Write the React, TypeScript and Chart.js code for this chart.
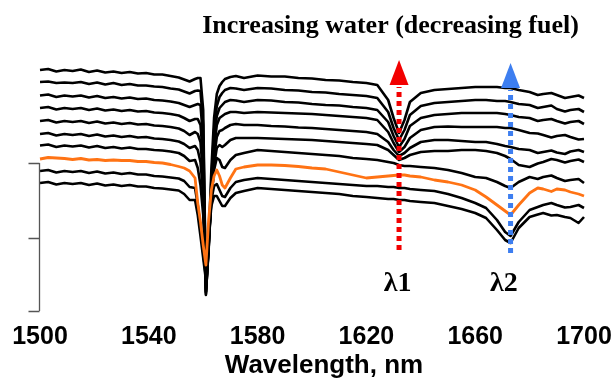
import React, { useEffect, useRef } from 'react';
import { Chart, registerables } from 'chart.js';

Chart.register(...registerables);

// Wavelength samples (nm)
const wavelengths = [1500, 1503, 1506, 1509, 1512, 1515, 1518, 1521, 1524, 1527, 1530, 1533, 1536, 1539, 1542, 1545, 1548, 1551,
  1553, 1555, 1557, 1558, 1559, 1560, 1561, 1562, 1563, 1564, 1565, 1566, 1567, 1568, 1570, 1572, 1575,
  1580, 1585, 1590, 1595, 1600, 1605, 1610, 1615, 1620,
  1624, 1628, 1630, 1632, 1634, 1636, 1640,
  1645, 1650, 1655, 1660,
  1664, 1668, 1671, 1673, 1676, 1680, 1683, 1685, 1688, 1690, 1693, 1695, 1698, 1700];

// Stacked spectra (a.u.), top to bottom
const spectrum1 = [241, 242, 239.5, 241, 240, 241.5, 239, 240.5, 238.5, 239.5, 238, 239, 237.5, 238, 236.5, 236.5, 235, 233.5,
  231.5, 229.5, 232, 233, 233, 201, 19, 71, 141, 193, 217, 225, 229, 232, 234, 235, 233,
  235.5, 234.5, 234.5, 233, 232.5, 231, 230.5, 229, 228,
  226, 211, 193, 178, 191, 209, 218,
  221, 222, 223, 224,
  224, 224, 223, 223, 221, 219, 216, 217, 218, 216, 213, 214, 215.5, 213];
const spectrum2 = [229, 229.5, 228, 228.5, 228, 229, 227, 228.5, 226.5, 228, 226, 227, 225.5, 225.5, 224.5, 224, 222.5, 221.5,
  219.5, 217.5, 220, 220.5, 220, 186, 16, 66, 131, 181, 205, 214, 218, 221, 223, 222.5, 221,
  223, 222.5, 221, 220.5, 219, 218.5, 217, 216, 215,
  213, 199, 183, 171, 181, 196, 205,
  208, 209, 210, 211,
  211, 210, 210, 209, 207, 206, 203, 204, 205.5, 202, 199.5, 201, 202, 199];
const spectrum3 = [215.5, 216.5, 214, 215.5, 214.5, 215.5, 213.5, 215, 213, 214, 212.5, 213.5, 212, 212.5, 211, 210.5, 209.5, 208,
  206, 204, 206, 207, 206, 171, 17, 63, 123, 171, 195, 203, 206, 209, 211, 210.5, 209,
  211, 210.5, 209, 208.5, 207, 206, 205.5, 204, 203,
  201, 189, 175, 164, 172, 185, 193,
  196, 197, 198, 198,
  198, 198, 197, 196, 194, 193, 190, 191, 192, 190, 187.5, 189, 190, 187];
const spectrum4 = [203, 204, 201.5, 203, 202, 203, 201, 202.5, 200.5, 201.5, 200, 201, 199.5, 200, 198.5, 198, 197, 195.5,
  193, 190, 192, 192, 186, 151, 19, 61, 119, 163, 186, 193, 195, 197, 199, 199, 198,
  199, 198.5, 198, 197.5, 197, 196, 195, 194, 193,
  191, 179, 168, 159, 164, 173, 181,
  184, 184.5, 184, 184,
  184, 184, 183, 183, 181, 178, 177.5, 176, 173.5, 175, 176, 174, 171.5, 172];
const spectrum5 = [190, 191, 188.5, 190, 189, 190, 188, 189.5, 187.5, 188.5, 187, 188, 186.5, 187, 185.5, 185, 184, 182.5,
  180, 176, 179, 177, 169, 133, 21, 63, 113, 153, 174, 180, 181, 183, 186, 187, 186,
  186, 185, 184.5, 183.5, 183, 182, 181, 180, 179,
  177, 169, 161, 155, 158, 163, 169,
  171, 171, 170, 169,
  169, 167, 165, 164, 162, 161, 158, 159, 160.5, 158.5, 157, 159.5, 161, 159];
const spectrum6 = [177, 178, 175.5, 177, 176, 177, 175, 176.5, 174.5, 175.5, 174, 175, 173.5, 174, 172.5, 172, 171, 169.5,
  167, 163, 165, 161, 149, 116, 23, 66, 111, 146, 163, 166, 164, 166, 171, 173, 173,
  173, 172.5, 172, 171.5, 171, 170, 169, 168, 167,
  166, 161, 156, 151, 153, 156, 159,
  160, 160, 161, 161,
  160, 158, 155, 152, 146, 144, 147.5, 149, 152, 151, 148.5, 150, 151.5, 149];
const spectrum7 = [165.5, 166.5, 164, 165.5, 164.5, 165.5, 163.5, 165, 163, 164, 162.5, 163.5, 162, 162, 161, 160.5, 159.5, 158,
  155, 150, 151, 143, 126, 96, 26, 73, 111, 141, 153, 151, 144, 143, 151, 156, 158,
  161, 160, 159, 158, 157, 156, 155, 153, 152,
  151, 149, 148, 146, 145, 145, 144,
  143, 141, 138, 134,
  133, 129, 125, 123, 129, 134, 132, 134, 135.5, 133, 130, 131, 132, 128];
const spectrumHighlight = [152, 153.5, 153, 152.5, 151.5, 152.5, 151, 151.5, 150.5, 151, 150.5, 150.5, 149.5, 149.5, 148.5, 148, 146.5, 144.5,
  143, 140, 133, 108, 89, 66, 46, 91, 121, 135, 141, 135, 126, 123, 133, 142, 144,
  146, 146, 145.5, 144.5, 143, 142, 139, 136, 133,
  134, 135, 135.5, 136, 136, 135, 134,
  131, 129, 126, 121,
  114, 106, 100, 96, 106, 118, 123, 122, 119.5, 122, 121, 119, 117, 115];
const spectrum9 = [140, 141, 138.5, 140, 139, 140, 138, 139.5, 137.5, 138.5, 137, 138, 136.5, 136.5, 135, 134.5, 133.5, 132.5,
  130, 124, 123, 106, 83, 59, 33, 79, 111, 125, 127, 121, 115, 114, 123, 129, 131,
  133, 132, 131, 130, 129, 128, 127, 126, 125,
  125, 124, 124, 123, 123, 122, 121,
  120, 117, 113, 108,
  103, 91, 79, 75, 89, 101, 104, 106, 108, 106, 103.5, 104, 106, 103];
const spectrum10 = [128, 129, 126.5, 128, 127, 128, 126, 127.5, 125.5, 126.5, 125, 126, 124.5, 124.5, 123, 122.5, 121.5, 120.5,
  117, 111, 111, 96, 75, 53, 31, 73, 105, 115, 115, 110, 105, 105, 113, 118, 120,
  123, 122, 121, 120, 119, 118, 117, 115, 114,
  113, 112, 112, 111, 111, 110, 109,
  108, 105, 102, 98,
  93, 81, 71, 68, 83, 94, 96.5, 98, 95.5, 96, 94, 93, 88, 94];

const blackSpectra = [spectrum1, spectrum2, spectrum3, spectrum4, spectrum5, spectrum6, spectrum7, spectrum9, spectrum10];

// Axis ticks
const xTickMin = 1500;
const xTickMax = 1700;
const xTickStep = 40;
const bracketTicks = [0, 73, 148];

// Annotations (data coordinates)
const arrowWavelengths = [1632, 1673];
const arrowBottoms = [61, 58];
const arrowTops = [251, 248];
const arrowColors = ['#f20000', '#3d7ef0'];
const lambdaLabels = ['\u03bb1', '\u03bb2'];
const lambdaLabelX = [1631.5, 1670.5];
const lambdaLabelY = [20, 20];

const chartTitle = 'Increasing water (decreasing fuel)';
const xAxisTitle = 'Wavelength, nm';

const annotationPlugin = {
  id: 'spectraAnnotations',
  afterDatasetsDraw(chart: any) {
    const { ctx, chartArea, scales } = chart;
    const x = scales.x;
    const y = scales.y;
    ctx.save();
    // left bracket axis
    ctx.strokeStyle = '#555';
    ctx.lineWidth = 1.3;
    const bx = chartArea.left - 0.5;
    ctx.beginPath();
    ctx.moveTo(bx, y.getPixelForValue(bracketTicks[0]));
    ctx.lineTo(bx, y.getPixelForValue(bracketTicks[bracketTicks.length - 1]));
    for (const t of bracketTicks) {
      const py = Math.round(y.getPixelForValue(t)) + 0.5;
      ctx.moveTo(bx - 11, py);
      ctx.lineTo(bx, py);
    }
    ctx.stroke();

    // arrows
    arrowWavelengths.forEach((w, i) => {
      const px = x.getPixelForValue(w);
      const yb = y.getPixelForValue(arrowBottoms[i]);
      const yt = y.getPixelForValue(arrowTops[i]);
      const headLen = 25;
      const headW = 19;
      ctx.strokeStyle = arrowColors[i];
      ctx.lineWidth = 5;
      ctx.lineCap = 'butt';
      ctx.setLineDash([5, 4]);
      ctx.beginPath();
      ctx.moveTo(px, yb);
      ctx.lineTo(px, yt + headLen + 2);
      ctx.stroke();
      ctx.setLineDash([]);
      ctx.fillStyle = arrowColors[i];
      ctx.beginPath();
      ctx.moveTo(px, yt);
      ctx.lineTo(px - headW / 2, yt + headLen);
      ctx.lineTo(px + headW / 2, yt + headLen);
      ctx.closePath();
      ctx.fill();

      ctx.fillStyle = '#000';
      ctx.font = 'bold 28px "Liberation Serif", "Times New Roman", serif';
      ctx.textAlign = 'center';
      ctx.textBaseline = 'alphabetic';
      ctx.fillText(lambdaLabels[i], x.getPixelForValue(lambdaLabelX[i]), y.getPixelForValue(lambdaLabelY[i]));
    });

    // chart title
    ctx.fillStyle = '#000';
    ctx.font = 'bold 26px "Liberation Serif", "Times New Roman", serif';
    ctx.textAlign = 'center';
    ctx.textBaseline = 'alphabetic';
    ctx.fillText(chartTitle, 390.5, 33);

    // x axis title
    ctx.font = 'bold 26px "Liberation Sans", Arial, sans-serif';
    ctx.fillText(xAxisTitle, (chartArea.left + chartArea.right) / 2 + 12, 373);
    ctx.restore();
  },
};

export default function App() {
  const canvasRef = useRef<HTMLCanvasElement | null>(null);

  useEffect(() => {
    const canvas = canvasRef.current;
    if (!canvas) return;
    const toPoints = (arr: number[]) => arr.map((v, i) => ({ x: wavelengths[i], y: v }));
    const datasets: any[] = [
      {
        label: 'highlight',
        data: toPoints(spectrumHighlight),
        borderColor: '#ff7314',
        borderWidth: 2.8,
        pointRadius: 0,
        tension: 0,
        borderJoinStyle: 'round',
        clip: false,
      },
      ...blackSpectra.map((s, i) => ({
        label: 's' + i,
        data: toPoints(s),
        borderColor: '#000',
        borderWidth: 2.6,
        pointRadius: 0,
        tension: 0,
        borderJoinStyle: 'round',
        clip: false,
      })),
    ];

    const chart = new Chart(canvas, {
      type: 'line',
      data: { datasets },
      options: {
        animation: false,
        responsive: true,
        maintainAspectRatio: false,
        devicePixelRatio: 1,
        layout: { padding: { left: 40, right: 32, top: 51, bottom: 19 } },
        plugins: {
          legend: { display: false },
          tooltip: { enabled: false },
          title: { display: false },
        },
        scales: {
          x: {
            type: 'linear',
            min: xTickMin,
            max: xTickMax,
            grid: { display: false, drawTicks: false },
            border: { display: false },
            afterFit: (s: any) => {
              s.paddingLeft = 0;
              s.paddingRight = 0;
            },
            ticks: {
              stepSize: xTickStep,
              autoSkip: false,
              maxRotation: 0,
              padding: 11,
              color: '#000',
              font: { family: '"Liberation Sans", Arial, sans-serif', size: 25, weight: 'bold' },
              callback: (v: any) => String(v),
            },
          },
          y: {
            display: false,
            min: 0,
            max: 260,
          },
        },
      },
      plugins: [annotationPlugin],
    });
    return () => chart.destroy();
  }, []);

  return (
    <div style={{ position: 'absolute', left: 0, top: 0, width: 616, height: 382, background: '#fff' }}>
      <canvas ref={canvasRef} />
    </div>
  );
}
